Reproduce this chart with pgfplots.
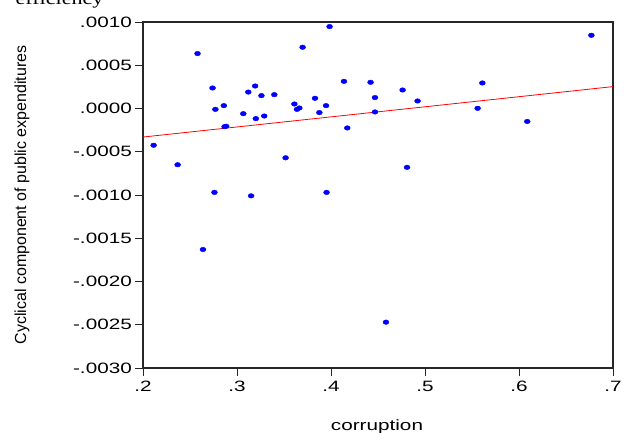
\documentclass[border=0pt]{standalone}
\usepackage{fontspec}
\setmainfont{Liberation Sans}
\newfontfamily\widesans[FakeStretch=1.38]{Liberation Sans}
\newfontfamily\wideserif[FakeStretch=1.3]{Liberation Serif}
\usepackage{pgfplots}
\pgfplotsset{compat=1.18}

\pgfplotstableread{
x       y
0.2113 -0.000425
0.2368 -0.00065
0.2580  0.000635
0.2638 -0.00163
0.2740  0.000237
0.2760 -0.00097
0.2770 -0.00001
0.2860  0.000033
0.2868 -0.00021
0.2885 -0.000205
0.3067 -0.00006
0.3120  0.00019
0.3150 -0.00101
0.3193  0.00026
0.3200 -0.000117
0.3260  0.000149
0.3290 -0.000087
0.3397  0.00016
0.3517 -0.00057
0.3610  0.000052
0.3638 -0.00001
0.3663  0.000006
0.3698  0.000708
0.3830  0.000118
0.3876 -0.000047
0.3947  0.000033
0.3953 -0.00097
0.3985  0.000947
0.4138  0.000314
0.4173 -0.000225
0.4421  0.000303
0.4468  0.000126
0.4468 -0.00004
0.4585 -0.00247
0.4762  0.000214
0.4809 -0.00068
0.4921  0.000087
0.5560  0.000002
0.5610  0.000295
0.6088 -0.00015
0.6770  0.000846
}\scatterdata

\begin{document}
\begin{tikzpicture}
\useasboundingbox (-143bp,-65bp) rectangle (481bp,368bp);
\begin{axis}[
    scale only axis,
    width=470bp, height=346bp,
    xmin=0.2, xmax=0.7,
    ymin=-0.003, ymax=0.001,
    xtick={0.2,0.3,0.4,0.5,0.6,0.7},
    xticklabels={.2,.3,.4,.5,.6,.7},
    ytick={-0.003,-0.0025,-0.002,-0.0015,-0.001,-0.0005,0,0.0005,0.001},
    yticklabels={-.0030,-.0025,-.0020,-.0015,-.0010,-.0005,.0000,.0005,.0010},
    scaled ticks=false,
    tick align=outside,
    xtick pos=bottom, ytick pos=left,
    major tick length=8bp,
    axis line style={draw=black!85, line width=1.1bp},
    tick style={draw=black!85, line width=0.9bp},
    ticklabel style={font=\widesans\fontsize{15bp}{15bp}\selectfont},
    yticklabel style={inner sep=3bp},
    xticklabel style={inner sep=3bp, yshift=-2bp},
]
\addplot[red, line width=0.8bp] coordinates {(0.2,-0.00033) (0.7,0.000253)};
\addplot[only marks, mark=*, blue, mark size=2.3bp,
    mark options={xscale=1.3, draw=blue, fill=blue}] table[x=x, y=y] {\scatterdata};
\end{axis}
\node[rotate=90, font=\fontsize{16bp}{16bp}\selectfont] at (-121bp,173bp)
    {Cyclical component of public expenditures};
\node[font=\widesans\fontsize{15bp}{15bp}\selectfont] at (234bp,-59bp) {corruption};
\node[anchor=base west, font=\wideserif\fontsize{17bp}{17bp}\selectfont] at (-131bp,363bp) {efficiency};
\end{tikzpicture}
\end{document}
